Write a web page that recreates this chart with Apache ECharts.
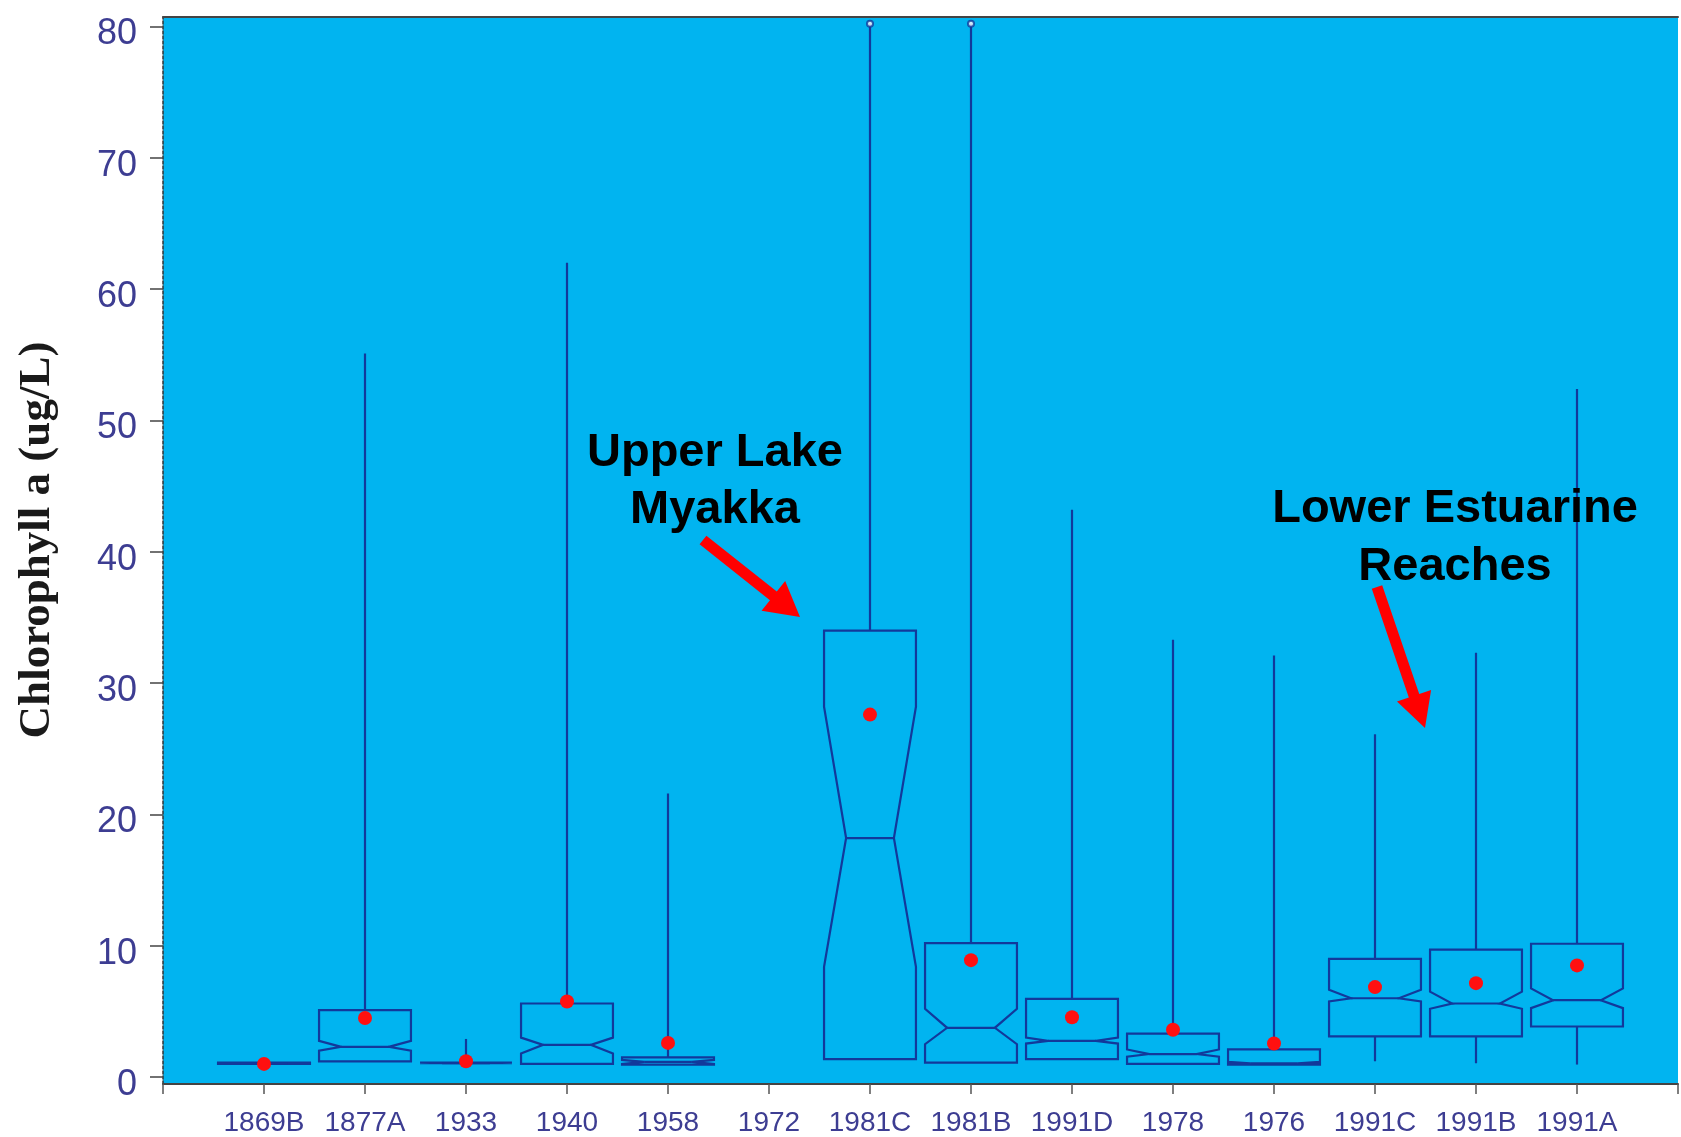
<!DOCTYPE html>
<html>
<head>
<meta charset="utf-8">
<title>Chlorophyll a by station</title>
<script src="https://cdn.jsdelivr.net/npm/echarts@6/dist/echarts.min.js"></script>
<style>
  html, body { margin: 0; padding: 0; background: #fff; }
  #chart { width: 1681px; height: 1137px; }
</style>
</head>
<body>
<div id="chart"></div>
<script>
// stations in plotted order (1972 has no data)
const stations = ['1869B', '1877A', '1933', '1940', '1958', '1972', '1981C',
  '1981B', '1991D', '1978', '1976', '1991C', '1991B', '1991A'];
const whiskerLow = [1.0, 1.2, 1.05, 1.0, 0.95, null, 1.37, 1.1, 1.37, 1.0, 0.95, 1.2, 1.05, 0.95];
const q1 = [1.0, 1.2, 1.05, 1.0, 0.95, null, 1.37, 1.1, 1.37, 1.0, 0.95, 3.1, 3.1, 3.85];
const notchLow = [1.05, 2.0, 1.05, 1.8, 1.0, null, 8.4, 2.5, 2.55, 1.55, 1.0, 5.75, 5.2, 5.25];
const median = [1.05, 2.3, 1.05, 2.45, 1.15, null, 18.2, 3.75, 2.75, 1.75, 1.05, 6.0, 5.6, 5.85];
const notchHigh = [1.05, 2.75, 1.1, 3.0, 1.3, null, 28.2, 5.2, 3.0, 2.1, 1.15, 6.65, 6.5, 6.75];
const q3 = [1.1, 5.1, 1.1, 5.6, 1.5, null, 34.0, 10.2, 5.95, 3.3, 2.1, 9.0, 9.7, 10.15];
const whiskerHigh = [1.1, 55.1, 2.9, 62.0, 21.6, null, 80.2, 80.2, 43.2, 33.3, 32.1, 26.1, 32.3, 52.4];
const means = [1.0, 4.5, 1.2, 5.75, 2.6, null, 27.6, 8.9, 4.55, 3.6, 2.55, 6.85, 7.15, 8.5];
const outliers = [['1981C', 80.2], ['1981B', 80.2]];
const yTicks = [0, 10, 20, 30, 40, 50, 60, 70, 80];

const lineColor = '#12399b';
const labelColor = '#3d3d92';

// empty slot at each end so the boxes sit one step in from the axis ends
const axisCats = [''].concat(stations, ['']);

const boxData = [];
const meanData = [];
stations.forEach((s, k) => {
  if (median[k] == null) return;
  boxData.push([k + 1, whiskerLow[k], q1[k], notchLow[k], median[k], notchHigh[k], q3[k], whiskerHigh[k]]);
  meanData.push([k + 1, means[k]]);
});
const outlierData = outliers.map(o => [stations.indexOf(o[0]) + 1, o[1]]);

function lineStyle() {
  return { stroke: lineColor, lineWidth: 2.2, fill: 'none' };
}

function renderBox(params, api) {
  const idx = api.value(0);
  const bw = api.size([1, 0])[0] * 0.91;
  const ind = bw * 0.24;
  const cx = api.coord([idx, 0])[0];
  const y = d => api.coord([idx, api.value(d)])[1];
  const x0 = cx - bw / 2, x1 = cx + bw / 2;
  const yWl = y(1), yQ1 = y(2), yNl = y(3), yMed = y(4), yNh = y(5), yQ3 = y(6), yWh = y(7);
  return {
    type: 'group',
    children: [
      { type: 'line', shape: { x1: cx, y1: yQ3, x2: cx, y2: yWh }, style: lineStyle() },
      { type: 'line', shape: { x1: cx, y1: yQ1, x2: cx, y2: yWl }, style: lineStyle() },
      {
        type: 'polygon',
        shape: {
          points: [[x0, yQ3], [x1, yQ3], [x1, yNh], [x1 - ind, yMed], [x1, yNl], [x1, yQ1],
            [x0, yQ1], [x0, yNl], [x0 + ind, yMed], [x0, yNh]]
        },
        style: lineStyle()
      },
      { type: 'line', shape: { x1: x0 + ind, y1: yMed, x2: x1 - ind, y2: yMed }, style: lineStyle() }
    ]
  };
}

// red annotation arrow as one polygon
function arrow(tail, tip, shaft, headLen, headW) {
  const dx = tip[0] - tail[0], dy = tip[1] - tail[1];
  const len = Math.sqrt(dx * dx + dy * dy);
  const ux = dx / len, uy = dy / len, nx = -uy, ny = ux;
  const bx = tip[0] - ux * headLen, by = tip[1] - uy * headLen;
  const pts = [
    [tail[0] + nx * shaft / 2, tail[1] + ny * shaft / 2],
    [bx + nx * shaft / 2, by + ny * shaft / 2],
    [bx + nx * headW / 2, by + ny * headW / 2],
    tip,
    [bx - nx * headW / 2, by - ny * headW / 2],
    [bx - nx * shaft / 2, by - ny * shaft / 2],
    [tail[0] - nx * shaft / 2, tail[1] - ny * shaft / 2]
  ];
  return { type: 'polygon', shape: { points: pts }, style: { fill: '#ff0000' }, z: 100 };
}

const annotFont = 'bold 47px "Liberation Sans", Arial, sans-serif';

const options = {
  animation: false,
  backgroundColor: '#ffffff',
  grid: {
    left: 163, right: -3, top: 17, bottom: 52,
    show: true, backgroundColor: '#01b4f0', borderWidth: 0
  },
  xAxis: [
    {
      type: 'category',
      data: axisCats,
      boundaryGap: false,
      axisLine: { onZero: false, lineStyle: { color: '#444', width: 2 } },
      axisTick: { show: true, interval: 0, length: 10, lineStyle: { color: '#555', width: 1.5 } },
      axisLabel: {
        interval: 0, margin: 25, fontSize: 28, color: labelColor,
        fontFamily: '"Liberation Sans", Arial, sans-serif'
      },
      splitLine: { show: false }
    },
    {
      type: 'category',
      data: axisCats,
      position: 'top',
      boundaryGap: false,
      axisLine: { onZero: false, lineStyle: { color: '#444', width: 2 } },
      axisTick: { show: false },
      axisLabel: { show: false },
      splitLine: { show: false }
    }
  ],
  yAxis: {
    type: 'value',
    min: -0.53,
    max: 80.72,
    splitLine: { show: false },
    axisLine: { show: true, lineStyle: { color: '#333', type: [3, 2], width: 1.5 } },
    axisTick: { show: true, length: 13, customValues: yTicks, lineStyle: { color: '#444', width: 1.5 } },
    axisLabel: {
      customValues: yTicks, fontSize: 36, color: labelColor, margin: 26,
      verticalAlign: 'top', lineHeight: 16,
      fontFamily: '"Liberation Sans", Arial, sans-serif'
    }
  },
  series: [
    {
      name: 'box',
      type: 'custom',
      renderItem: renderBox,
      data: boxData,
      encode: { x: 0, y: [1, 2, 3, 4, 5, 6, 7] },
      z: 2
    },
    {
      name: 'outliers',
      type: 'scatter',
      data: outlierData,
      symbol: 'emptyCircle',
      symbolSize: 6,
      itemStyle: { color: lineColor, borderColor: lineColor, borderWidth: 1.5 },
      z: 3
    },
    {
      name: 'mean',
      type: 'scatter',
      data: meanData,
      symbolSize: 14,
      itemStyle: { color: '#ff1010', opacity: 1 },
      z: 4
    }
  ],
  graphic: [
    {
      type: 'text', x: 37, y: 540, rotation: Math.PI / 2,
      style: {
        text: 'Chlorophyll a (ug/L)', fill: '#1a1a1a',
        font: 'bold 45px "Liberation Serif", "Times New Roman", serif',
        align: 'center', verticalAlign: 'middle'
      }
    },
    {
      type: 'text', x: 715, y: 482, z: 100,
      style: {
        text: 'Upper Lake\nMyakka', fill: '#000', font: annotFont,
        align: 'center', verticalAlign: 'middle', lineHeight: 57
      }
    },
    {
      type: 'text', x: 1455, y: 538, z: 100,
      style: {
        text: 'Lower Estuarine\nReaches', fill: '#000', font: annotFont,
        align: 'center', verticalAlign: 'middle', lineHeight: 58
      }
    },
    arrow([703, 540], [800, 617], 11, 34, 38),
    arrow([1377, 587], [1425, 728], 11, 34, 36)
  ]
};

const chart = echarts.init(document.getElementById('chart'));
chart.setOption(options);
window.addEventListener('resize', function () {
  chart && chart.resize();
});
</script>
</body>
</html>
